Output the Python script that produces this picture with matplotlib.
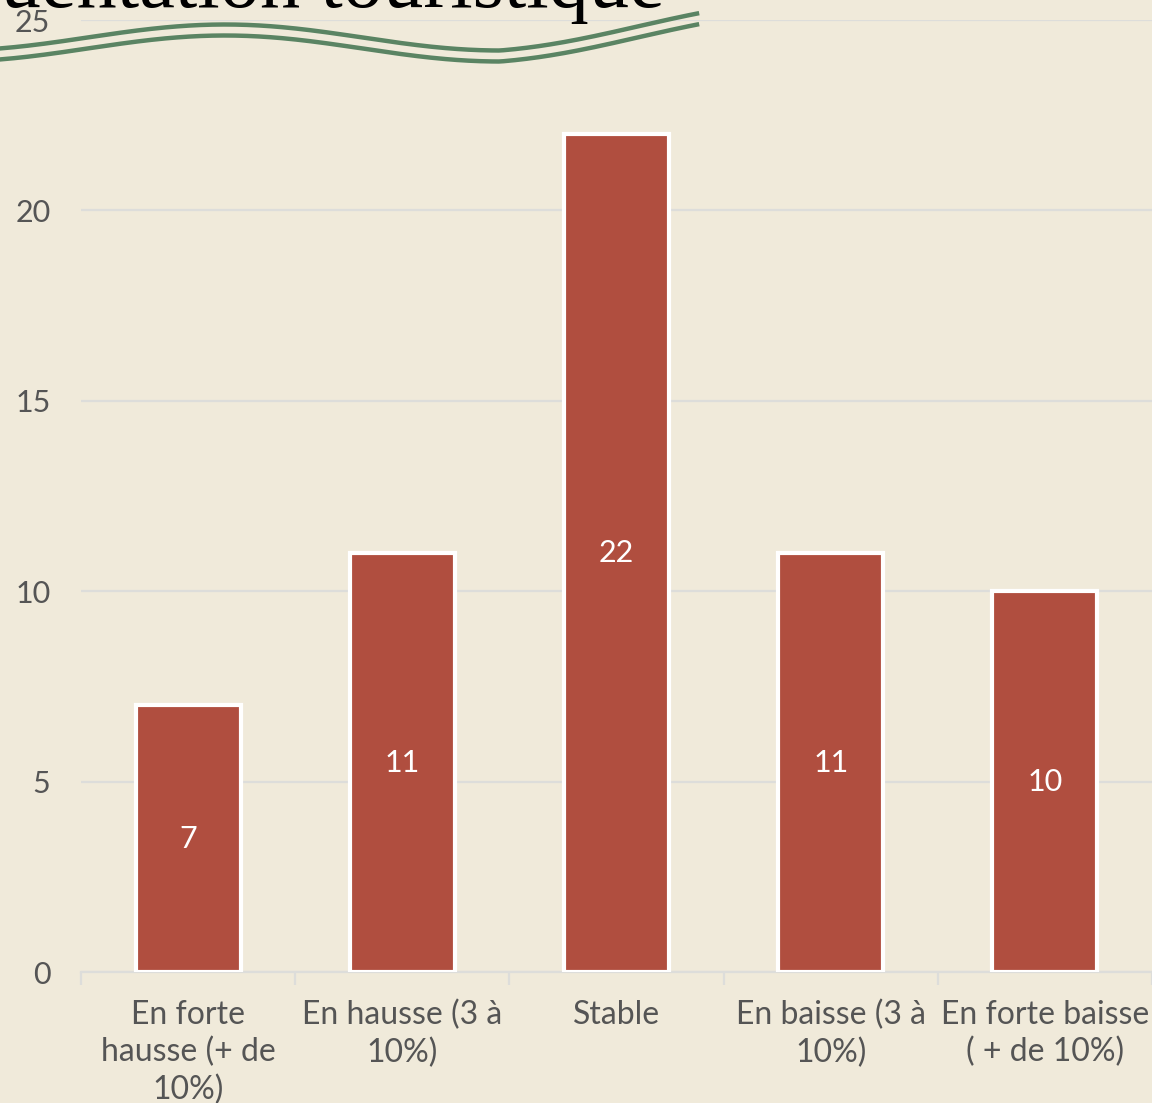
import numpy as np
import matplotlib
matplotlib.use("Agg")
import matplotlib.pyplot as plt
from matplotlib.lines import Line2D

categories = ["En forte\nhausse (+ de\n10%)", "En hausse (3 à\n10%)", "Stable",
              "En baisse (3 à\n10%)", "En forte baisse\n( + de 10%)"]
values = [7, 11, 22, 11, 10]
yticks = [0, 5, 10, 15, 20, 25]
title = "Fréquentation touristique"

BG = "#F0EADA"
BAR = "#B04E3F"
GRID = "#DDDDDA"
TXT = "#555555"
GREEN = "#5A8463"
FONT = "Lato"

W, H = 1152, 1103
fig = plt.figure(figsize=(W / 100, H / 100), dpi=100, facecolor=BG)
ax = fig.add_axes([81 / W, 1 - 972 / H, 1 - 81 / W, (972 - 20) / H])
ax.set_facecolor(BG)

x = np.arange(len(values))
bars = ax.bar(x, values, width=0.49, color=BAR, edgecolor="white", linewidth=3, zorder=3)
for xi, v in zip(x, values):
    ax.text(xi, v / 2, str(v), ha="center", va="center", color="white",
            fontsize=22, family=FONT, zorder=4)

ax.set_xlim(-0.5, len(values) - 0.5)
ax.set_ylim(0, 25)
ax.set_yticks(yticks)
ax.set_yticklabels([str(t) for t in yticks], fontsize=22, color=TXT, family=FONT)
ax.tick_params(axis="y", length=0, pad=22)
ax.yaxis.grid(True, color=GRID, linewidth=1.6, zorder=0)
ax.set_axisbelow(True)

ax.set_xticks(x)
ax.set_xticklabels(categories, fontsize=23, color=TXT, family=FONT, linespacing=1.3)
ax.tick_params(axis="x", which="major", length=0, pad=20)
ax.set_xticks(np.arange(len(values) + 1) - 0.5, minor=True)
ax.tick_params(axis="x", which="minor", length=9, width=1.6, color=GRID)

for s in ["top", "right", "left"]:
    ax.spines[s].set_visible(False)
ax.spines["bottom"].set_color(GRID)
ax.spines["bottom"].set_linewidth(1.6)

# partially visible title
fig.text(665 / W, 1 - 7 / H, title, ha="right", va="baseline", fontsize=58,
         family="Liberation Serif", color="black")

# decorative wavy double line
t = np.linspace(0, 697, 300)
base = 43 - 13 * np.sin((t - 87.5) / 550 * 2 * np.pi) - 0.08 * np.maximum(t - 500, 0)
for off in (-5.5, 5.5):
    yy = base + off
    fig.add_artist(Line2D(t / W, 1 - yy / H, color=GREEN, linewidth=3.2,
                          transform=fig.transFigure))

fig.savefig("out.png", dpi=100, facecolor=BG)
